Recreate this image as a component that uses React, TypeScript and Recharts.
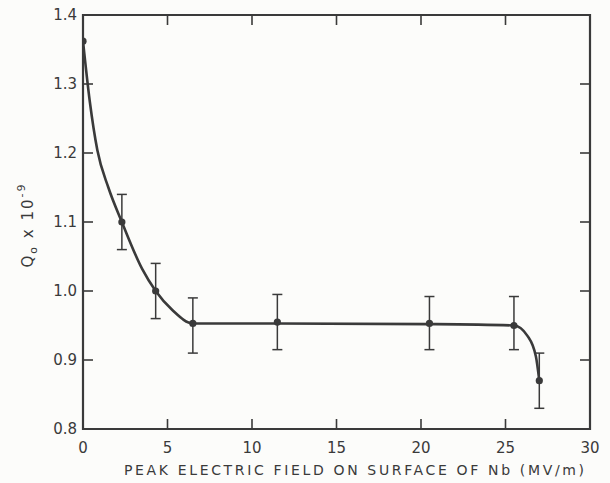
import * as React from 'react'
import {
  ComposedChart,
  Line,
  Scatter,
  ErrorBar,
  XAxis,
  YAxis,
  ReferenceArea,
  Label,
} from 'recharts'

// Measured Q0 (x 10^9) against peak surface field, with error bar limits
const fieldMVm = [0, 2.3, 4.3, 6.5, 11.5, 20.5, 25.5, 27.0]
const q0 = [1.362, 1.1, 1.0, 0.953, 0.955, 0.953, 0.95, 0.87]
const q0Upper = [null, 1.14, 1.04, 0.99, 0.995, 0.992, 0.992, 0.91]
const q0Lower = [null, 1.06, 0.96, 0.91, 0.915, 0.915, 0.915, 0.83]

// Hand-drawn fit through the measurements
const fitField = [0, 0.4, 0.85, 1.5, 2.3, 3.5, 4.3, 5.3, 6.5, 11.5, 20.5, 25.5, 26.3, 26.8, 27.0]
const fitQ0 = [1.362, 1.275, 1.204, 1.15, 1.1, 1.032, 1.0, 0.972, 0.953, 0.953, 0.952, 0.95, 0.935, 0.905, 0.87]

const xTicks = [0, 5, 10, 15, 20, 25, 30]
const yTicks = [0.8, 0.9, 1.0, 1.1, 1.2, 1.3, 1.4]
const yTickLabels = ['0.8', '0.9', '1.0', '1.1', '1.2', '1.3', '1.4']

const INK = '#3a3a3a'
const FONT = '"DejaVu Sans", sans-serif'
const PLOT = { left: 83, right: 590, top: 15, bottom: 429 }
const TICK_LEN = 10

const points = fieldMVm.map((x, i) => ({
  x,
  y: q0[i],
  err:
    q0Upper[i] == null
      ? null
      : [q0[i] - (q0Lower[i] as number), (q0Upper[i] as number) - q0[i]],
}))
const fit = fitField.map((x, i) => ({ x, y: fitQ0[i] }))

// bottom labels + inward ticks on both bottom and top edges
function FieldTick(props: any) {
  const { payload } = props
  const x = payload.coordinate
  const edge = payload.value === xTicks[0] || payload.value === xTicks[xTicks.length - 1]
  return (
    <g>
      {!edge && (
        <>
          <line x1={x} x2={x} y1={PLOT.bottom} y2={PLOT.bottom - TICK_LEN} stroke={INK} strokeWidth={1.6} />
          <line x1={x} x2={x} y1={PLOT.top} y2={PLOT.top + TICK_LEN} stroke={INK} strokeWidth={1.6} />
        </>
      )}
      <text
        x={x}
        y={PLOT.bottom + 24}
        textAnchor="middle"
        fontFamily={FONT}
        fontSize={15}
        fill={INK}
      >
        {payload.value}
      </text>
    </g>
  )
}

// left labels + inward ticks on both left and right edges
function QTick(props: any) {
  const { payload, index } = props
  const y = payload.coordinate
  const edge = index === 0 || index === yTicks.length - 1
  return (
    <g>
      {!edge && (
        <>
          <line x1={PLOT.left} x2={PLOT.left + TICK_LEN} y1={y} y2={y} stroke={INK} strokeWidth={1.6} />
          <line x1={PLOT.right} x2={PLOT.right - TICK_LEN} y1={y} y2={y} stroke={INK} strokeWidth={1.6} />
        </>
      )}
      <text
        x={PLOT.left - 6}
        y={y + 5}
        textAnchor="end"
        fontFamily={FONT}
        fontSize={15}
        fill={INK}
      >
        {yTickLabels[index]}
      </text>
    </g>
  )
}

export default function App() {
  return (
    <div
      style={{
        position: 'absolute',
        left: 0,
        top: 0,
        width: 610,
        height: 483,
        background: '#fcfcfa',
      }}
    >
      <ComposedChart
        width={610}
        height={483}
        margin={{ top: PLOT.top, right: 610 - PLOT.right, bottom: 0, left: 0 }}
      >
        <XAxis
          dataKey="x"
          type="number"
          domain={[0, 30]}
          ticks={xTicks}
          height={483 - PLOT.bottom}
          axisLine={false}
          tickLine={false}
          tick={FieldTick}
          interval={0}
          allowDataOverflow
        >
          <Label
            content={() => (
              <text
                x={124}
                y={475}
                textLength={460}
                lengthAdjust="spacing"
                fontFamily={FONT}
                fontSize={14}
                fill={INK}
              >
                PEAK ELECTRIC FIELD ON SURFACE OF Nb (MV/m)
              </text>
            )}
          />
        </XAxis>
        <YAxis
          type="number"
          domain={[0.8, 1.4]}
          ticks={yTicks}
          width={PLOT.left}
          axisLine={false}
          tickLine={false}
          tick={QTick}
          interval={0}
          allowDataOverflow
        >
          <Label
            content={() => (
              <text
                transform="translate(33, 225) rotate(-90)"
                textAnchor="middle"
                fontFamily={FONT}
                fontSize={15}
                letterSpacing={2}
                fill={INK}
              >
                Q<tspan fontSize={11} dy={4}>o</tspan>
                <tspan dy={-4}>{' x 10'}</tspan>
                <tspan fontSize={11} dy={-8}>-9</tspan>
              </text>
            )}
          />
        </YAxis>
        <ReferenceArea
          x1={0}
          x2={30}
          y1={0.8}
          y2={1.4}
          fill="none"
          fillOpacity={0}
          stroke={INK}
          strokeWidth={2.2}
        />
        <Line
          data={fit}
          dataKey="y"
          type="monotone"
          stroke={INK}
          strokeWidth={2.6}
          dot={false}
          activeDot={false}
          isAnimationActive={false}
        />
        <Scatter
          data={points}
          dataKey="y"
          fill={INK}
          isAnimationActive={false}
          shape={(p: any) => <circle cx={p.cx} cy={p.cy} r={3.6} fill={INK} />}
        >
          <ErrorBar dataKey="err" direction="y" width={5} stroke={INK} strokeWidth={1.5} />
        </Scatter>
      </ComposedChart>
    </div>
  )
}
